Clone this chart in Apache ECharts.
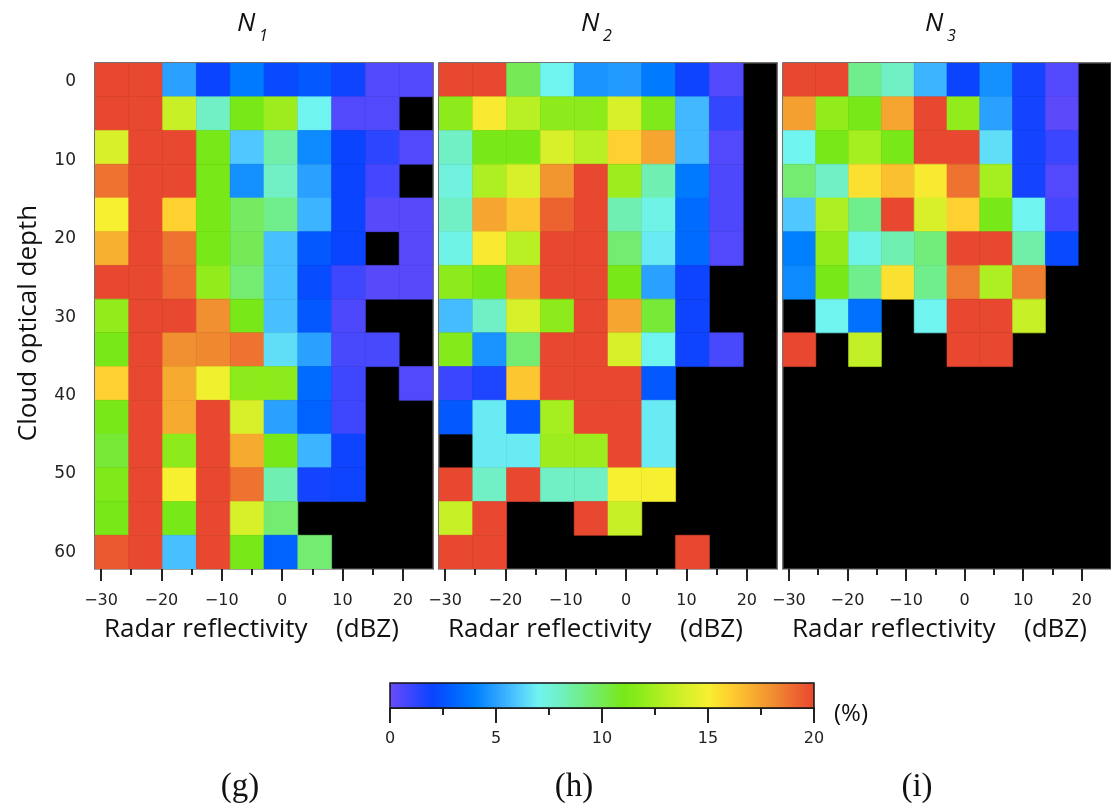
<!DOCTYPE html>
<html>
<head>
<meta charset="utf-8">
<title>Cloud optical depth vs radar reflectivity</title>
<script src="https://cdn.jsdelivr.net/npm/echarts@6/dist/echarts.min.js"></script>
<style>
  html, body { margin: 0; padding: 0; background: #fff; }
  #chart { width: 1111px; height: 808px; }
</style>
</head>
<body>
<div id="chart"></div>
<script>
// reflectivity bin edges (dBZ), 10 bins
const dbzEdges = [-31, -25.4, -19.8, -14.2, -8.6, -3, 2.6, 8.2, 13.8, 19.4, 25];
// cloud optical depth bin edges, 15 bins
const depthEdges = [-2.4, 1.9, 6.2, 10.5, 14.8, 19.1, 23.4, 27.7, 32, 36.3, 40.6, 44.9, 49.2, 53.5, 57.8, 62.1];

const dbzTicks = [-30, -20, -10, 0, 10, 20];
const dbzMinorTicks = [-25, -15, -5, 5, 15];
const depthTicks = [0, 10, 20, 30, 40, 50, 60];
const depthMinorTicks = [5, 15, 25, 35, 45, 55];
const pctTicks = [0, 5, 10, 15, 20];
const pctMinorTicks = [2.5, 7.5, 12.5, 17.5];

const panelSubs = ['1', '2', '3'];
const panelLetters = ['(g)', '(h)', '(i)'];

// frequency (%) per cell: rows = optical depth bins (top -> bottom), cols = dBZ bins; null = no data (black)
const n1Pct = [
  [20, 20, 5, 2, 3.8, 2.2, 2.7, 1.9, 0.5, 0.5],
  [20, 20, 13.5, 8, 11, 12.3, 7, 0.5, 0.5, null],
  [14, 20, 20, 11, 6, 8.5, 4.3, 2, 1.3, 0.5],
  [18.8, 20, 20, 11, 4.5, 8, 5, 2, 0.8, null],
  [15, 20, 16, 11, 9.8, 9, 5.5, 2, 0.4, 0.4],
  [17, 20, 18.8, 11, 10, 5.8, 2.7, 2, null, 0.4],
  [20, 20, 19, 12, 9.5, 5.8, 2.3, 0.9, 0.4, 0.4],
  [12, 20, 20, 18, 11, 5.8, 2.7, 0.6, null, null],
  [11, 20, 18, 18.2, 18.8, 6.5, 5, 0.7, 0.7, null],
  [16, 20, 17.2, 14.8, 11.8, 11.8, 3.3, 0.9, null, 0.5],
  [11, 20, 17.2, 20, 14, 5, 3, 0.9, null, null],
  [10.5, 20, 11.8, 20, 17.2, 11, 5.5, 1.9, null, null],
  [11.3, 20, 15, 20, 18.8, 8.3, 1.8, 1.9, null, null],
  [11, 20, 11, 20, 14, 9.5, null, null, null, null],
  [19.5, 20, 5.8, 20, 11, 3, 9.5, null, null, null]
];
const n2Pct = [
  [20, 20, 10, 7, 4.6, 4.8, 3.8, 1.9, 0.5, null],
  [11.8, 15.2, 13, 11.8, 11.8, 14, 11.3, 5.6, 1.1, null],
  [8, 11, 11, 14, 13, 16, 17.3, 5.6, 0.5, null],
  [7.4, 12.7, 14, 17.8, 20, 12.3, 8.3, 3.8, 0.6, null],
  [8, 17.3, 16.3, 19.2, 20, 8.3, 7.2, 3.3, 0.6, null],
  [7.2, 15.2, 13, 20, 20, 9.5, 6.8, 3.3, 0.5, null],
  [11.8, 11, 17.3, 20, 20, 11, 5, 1.9, null, null],
  [5.7, 8, 14, 11.8, 20, 17.3, 10.5, 1.9, null, null],
  [11.5, 4.6, 9.5, 20, 20, 14, 7, 1.9, 0.7, null],
  [1, 1.6, 16.3, 20, 20, 20, 2.7, null, null, null],
  [2.7, 6.8, 2.7, 12.5, 20, 20, 6.8, null, null, null],
  [null, 6.8, 6.8, 12.3, 12.3, 20, 6.8, null, null, null],
  [20, 8, 20, 8, 8, 15, 15, null, null, null],
  [13.5, 20, null, null, 20, 13.5, null, null, null, null],
  [20, 20, null, null, null, null, null, 20, null, null]
];
const n3Pct = [
  [20, 20, 9, 8, 5.5, 2, 4.5, 1.8, 0.5, null],
  [17.5, 12, 11, 17.3, 20, 12, 5, 1.8, 0.3, null],
  [7, 11, 12.5, 11, 20, 20, 6.5, 1.8, 1, null],
  [9.5, 8, 15.5, 16.5, 15.2, 18.8, 12.5, 1.8, 0.5, null],
  [6, 12.7, 9, 20, 14, 16, 11, 7, 0.8, null],
  [4, 12, 7.2, 8.3, 9.3, 20, 20, 8.5, 2.2, null],
  [4.3, 11, 9, 15.5, 9, 18.5, 12.7, 18.5, null, null],
  [null, 7, 3.5, null, 7, 20, 20, 13.5, null, null],
  [20, null, 13.3, null, null, 20, 20, null, null, null],
  [null, null, null, null, null, null, null, null, null, null],
  [null, null, null, null, null, null, null, null, null, null],
  [null, null, null, null, null, null, null, null, null, null],
  [null, null, null, null, null, null, null, null, null, null],
  [null, null, null, null, null, null, null, null, null, null],
  [null, null, null, null, null, null, null, null, null, null]
];

// colour scale 0..20 %, one stop per 1 %
const pctColors = [
  '#6a4cf8', '#3a46ff', '#0a44ff', '#0062ff', '#0080ff', '#2aa0ff', '#50c8ff',
  '#70f4f0', '#70f0c4', '#70ee8c', '#76ea56', '#78e818', '#92ec1c', '#b8f024',
  '#d8f02a', '#f6f030', '#fed030', '#f8b030', '#f09030', '#ee6a30', '#e84830'
];

const panelLeft = [95, 439, 783];
const panelTop = 63;
const panelW = 338;
const panelH = 506;

const tickFont = 'DejaVu Sans';
const textFont = 'Open Sans';

function fmtNum(v) {
  return v < 0 ? '\u2212' + (-v) : String(v);
}

function toCells(matrix) {
  const cells = [];
  matrix.forEach(function (row, r) {
    row.forEach(function (v, c) {
      if (v !== null) {
        cells.push([dbzEdges[c], depthEdges[r], v, dbzEdges[c + 1], depthEdges[r + 1]]);
      }
    });
  });
  return cells;
}

function renderCell(params, api) {
  const a = api.coord([api.value(0), api.value(1)]);
  const b = api.coord([api.value(3), api.value(4)]);
  const color = api.visual('color');
  return {
    type: 'rect',
    shape: {
      x: Math.min(a[0], b[0]),
      y: Math.min(a[1], b[1]),
      width: Math.abs(b[0] - a[0]),
      height: Math.abs(b[1] - a[1])
    },
    style: { fill: color, stroke: color, lineWidth: 0.6 }
  };
}

function dbzAxis(grid, minor) {
  return {
    type: 'value',
    gridIndex: grid,
    position: 'bottom',
    min: dbzEdges[0],
    max: dbzEdges[dbzEdges.length - 1],
    splitLine: { show: false },
    axisLine: { show: !minor, onZero: false, lineStyle: { color: '#a0a0a0', width: 1 } },
    axisTick: {
      show: true,
      customValues: minor ? dbzMinorTicks : dbzTicks,
      length: minor ? 6 : 12,
      lineStyle: { color: '#222', width: 2 }
    },
    axisLabel: minor
      ? { show: false }
      : { customValues: dbzTicks, formatter: fmtNum, margin: 24, color: '#222', fontSize: 16, fontFamily: tickFont }
  };
}

function depthAxis(grid, visible, minor) {
  return {
    type: 'value',
    gridIndex: grid,
    show: visible,
    position: 'left',
    inverse: true,
    min: depthEdges[0],
    max: depthEdges[depthEdges.length - 1],
    splitLine: { show: false },
    axisLine: { show: false },
    axisTick: {
      show: true,
      customValues: minor ? depthMinorTicks : depthTicks,
      length: minor ? 4 : 9,
      lineStyle: { color: '#222', width: 2 }
    },
    axisLabel: minor
      ? { show: false }
      : { customValues: depthTicks, margin: 19, color: '#222', fontSize: 17, fontFamily: tickFont }
  };
}

const grids = [];
const xAxes = [];
const yAxes = [];
const series = [];
const graphics = [];
const matrices = [n1Pct, n2Pct, n3Pct];

matrices.forEach(function (m, k) {
  grids.push({
    left: panelLeft[k], top: panelTop, width: panelW, height: panelH,
    show: true, backgroundColor: '#000', borderColor: '#444', borderWidth: 1.5
  });
  xAxes.push(dbzAxis(k, false), dbzAxis(k, true));
  yAxes.push(depthAxis(k, k === 0, false));
  series.push({
    type: 'custom',
    name: 'N' + panelSubs[k],
    coordinateSystem: 'cartesian2d',
    xAxisIndex: 2 * k,
    yAxisIndex: k,
    encode: { x: [0, 3], y: [1, 4] },
    clip: true,
    silent: true,
    renderItem: renderCell,
    data: toCells(m)
  });

  const off = panelLeft[k] - panelLeft[0];
  // panel title N_k
  graphics.push({
    type: 'text', left: 237 + off, top: 11,
    style: { text: 'N', font: 'italic 26px "' + textFont + '"', fill: '#111' }
  });
  graphics.push({
    type: 'text', left: 259 + off, top: 28,
    style: { text: panelSubs[k], font: 'italic 16px "' + textFont + '"', fill: '#111' }
  });
  // x axis name
  graphics.push({
    type: 'text', left: 104 + off, top: 617,
    style: { text: 'Radar reflectivity', font: '26px "' + textFont + '"', fill: '#111' }
  });
  graphics.push({
    type: 'text', left: 336 + off, top: 617,
    style: { text: '(dBZ)', font: '26px "' + textFont + '"', fill: '#111' }
  });
});

yAxes.push(depthAxis(0, true, true));

// colour bar axis
grids.push({
  left: 390, top: 683, width: 424, height: 25, z: 6,
  show: true, backgroundColor: 'transparent', borderColor: '#111', borderWidth: 1.5
});
xAxes.push({
  type: 'value', gridIndex: 3, position: 'bottom', min: 0, max: 20,
  splitLine: { show: false },
  axisLine: { show: true, lineStyle: { color: '#111', width: 1.5 } },
  axisTick: { customValues: pctTicks, length: 15, lineStyle: { color: '#222', width: 2 } },
  axisLabel: { customValues: pctTicks, margin: 23, color: '#222', fontSize: 16, fontFamily: tickFont }
});
xAxes.push({
  type: 'value', gridIndex: 3, position: 'bottom', min: 0, max: 20,
  splitLine: { show: false },
  axisLine: { show: false },
  axisTick: { customValues: pctMinorTicks, length: 7, lineStyle: { color: '#222', width: 2 } },
  axisLabel: { show: false }
});
yAxes.push({ type: 'value', gridIndex: 3, show: false, min: 0, max: 1 });

// y axis name, letters, unit
graphics.push({
  type: 'text', x: 29, y: 323, rotation: Math.PI / 2,
  style: { text: 'Cloud optical depth', font: '26px "' + textFont + '"', fill: '#111', align: 'center', verticalAlign: 'middle' }
});
[240, 574, 917].forEach(function (cx, k) {
  graphics.push({
    type: 'text', x: cx, y: 787,
    style: { text: panelLetters[k], font: '33px "Liberation Serif"', fill: '#111', align: 'center', verticalAlign: 'middle' }
  });
});
graphics.push({
  type: 'text', x: 834, y: 714,
  style: { text: '(%)', font: '24px "' + textFont + '"', fill: '#111', align: 'left', verticalAlign: 'middle' }
});

const option = {
  backgroundColor: '#fff',
  animation: false,
  grid: grids,
  xAxis: xAxes,
  yAxis: yAxes,
  visualMap: {
    type: 'continuous',
    min: 0,
    max: 20,
    dimension: 2,
    seriesIndex: [0, 1, 2],
    inRange: { color: pctColors },
    orient: 'horizontal',
    left: 390,
    top: 683,
    itemWidth: 25,
    itemHeight: 424,
    padding: 0,
    calculable: false,
    hoverLink: false,
    showLabel: false
  },
  graphic: graphics,
  series: series
};

const chart = echarts.init(document.getElementById('chart'));
chart.setOption(option);
</script>
</body>
</html>
